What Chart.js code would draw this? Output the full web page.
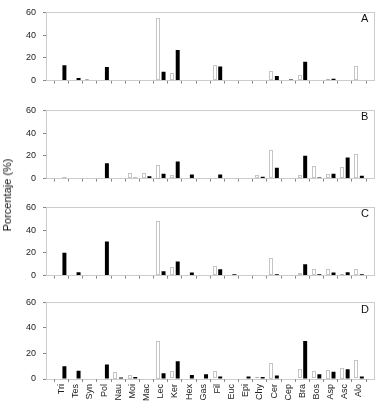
<!DOCTYPE html>
<html>
<head>
<meta charset="utf-8">
<script src="https://cdn.jsdelivr.net/npm/chart.js@4/dist/chart.umd.min.js"></script>
<style>
  body { margin: 0; background: #fff; }
  #wrap { position: relative; width: 383px; height: 410px; font-family: "Liberation Sans", Arial, sans-serif; color: #111; }
  canvas { position: absolute; left: 0; }
  .tag { position: absolute; left: 361px; font-size: 11px; line-height: 11px; }
  #ytitle { position: absolute; left: 7px; top: 195px; transform: translate(-50%, -50%) rotate(-90deg); font-size: 11px; white-space: nowrap; }
</style>
</head>
<body>
<div id="wrap">
  <canvas id="cA" width="383" height="93" style="top:0px"></canvas>
  <canvas id="cB" width="383" height="93" style="top:98px"></canvas>
  <canvas id="cC" width="383" height="93" style="top:195px"></canvas>
  <canvas id="cD" width="383" height="120" style="top:290px"></canvas>
  <div class="tag" style="top:13px">A</div>
  <div class="tag" style="top:111px">B</div>
  <div class="tag" style="top:208px">C</div>
  <div class="tag" style="top:304px">D</div>
  <div id="ytitle">Porcentaje (%)</div>
</div>
<script>
const categories = ['Tri','Tes','Syn','Pol','Nau','Moi','Mac','Lec','Ker','Hex','Gas','Fil','Euc','Epi','Chy','Cer','Cep','Bra','Bos','Asp','Asc','Alo'];
const yTicks = [0, 10, 20, 30, 40, 50, 60];

// white (open) bars and black bars, one pair per panel
const whiteA = [0, 0, 1, 0, 0, 0, 0, 55, 6.5, 0, 0, 13.5, 0, 0, 0.7, 8.5, 0, 4.5, 0, 1.7, 0.7, 13];
const blackA = [13.5, 2.2, 0, 12, 0, 0.5, 0, 7.8, 27, 0, 0, 12.5, 0, 0, 0, 4, 1, 16.5, 0, 1.7, 0, 0.5];
const whiteB = [0, 0, 0, 0, 0, 4.8, 4.8, 12.4, 2.9, 0, 0, 0, 0, 0, 2.9, 25, 0, 2.9, 11.4, 4.3, 10, 21.4];
const blackB = [0.7, 0, 0, 13.6, 0, 0.7, 2, 4.3, 15, 3.6, 0, 3.6, 0, 0, 1.7, 9.5, 0, 20, 1, 4.3, 18.6, 2.6];
const whiteC = [0, 0, 0, 0, 0, 0, 0, 48, 7.5, 0, 0, 8.7, 0, 0, 0, 15.3, 0, 2, 5.6, 6, 1, 6];
const blackC = [20, 3, 0, 30, 0, 0, 0, 3.9, 12.3, 2.7, 0, 5.6, 1.2, 0, 0, 1.2, 0, 10, 1.2, 2.7, 2.9, 1.2];
const whiteD = [0, 0, 0, 0, 5.5, 3.5, 0, 30, 6, 0, 0, 6.2, 0, 0, 1.5, 12.7, 0, 7.7, 6, 7.4, 8.7, 14.6];
const blackD = [10, 6.5, 0, 11.4, 1.2, 1.5, 0, 4.5, 13.9, 3.2, 3.7, 2, 0, 2, 1.5, 2.7, 0, 29.8, 3.7, 5.7, 7.7, 2];

const tickFont = { family: '"Liberation Sans", Arial, sans-serif', size: 9 };

// dotted frame round the plot and dotted outline on the open bars
const dottedPlugin = {
  id: 'dotted',
  afterDatasetsDraw(chart) {
    const ctx = chart.ctx;
    const area = chart.chartArea;
    ctx.save();
    ctx.setLineDash([1, 1]);
    ctx.lineWidth = 1;
    ctx.strokeStyle = '#8a8a8a';
    chart.getDatasetMeta(0).data.forEach(bar => {
      const p = bar.getProps(['x', 'y', 'base', 'width'], true);
      if (p.base - p.y < 0.5) return;
      ctx.strokeRect(Math.round(p.x - p.width / 2) + 0.5, Math.round(p.y) + 0.5, Math.round(p.width) - 1, Math.round(p.base - p.y) - 1);
    });
    ctx.strokeStyle = '#999';
    ctx.strokeRect(Math.round(area.left) + 0.5, Math.round(area.top) + 0.5, Math.round(area.width) - 1, Math.round(area.height));
    ctx.restore();
  }
};

function makePanel(id, white, black, showLabels) {
  const toPts = vals => vals.map((v, i) => ({ x: i, y: v }));
  return new Chart(document.getElementById(id), {
    type: 'bar',
    data: {
      datasets: [
        { data: toPts(white), backgroundColor: '#fff', borderWidth: 0, categoryPercentage: 0.8, barPercentage: 0.7 },
        { data: toPts(black), backgroundColor: '#000', borderWidth: 0, categoryPercentage: 0.8, barPercentage: 0.7 }
      ]
    },
    options: {
      responsive: false,
      animation: false,
      layout: { padding: { top: 7, right: 8, left: 0, bottom: 0 } },
      plugins: { legend: { display: false }, tooltip: { enabled: false } },
      scales: {
        x: {
          type: 'linear',
          min: -1.1,
          max: 22.13,
          offset: false,
          afterBuildTicks: axis => { axis.ticks = categories.map((c, i) => ({ value: i })); },
          afterFit: axis => { axis.height = showLabels ? 31 : 4; },
          grid: { drawOnChartArea: false, tickLength: 3, color: '#888' },
          border: { display: false },
          ticks: {
            display: showLabels,
            autoSkip: false,
            minRotation: 90,
            maxRotation: 90,
            padding: 2,
            font: tickFont,
            color: '#222',
            callback: v => categories[v]
          }
        },
        y: {
          min: 0,
          max: 60,
          afterBuildTicks: axis => { axis.ticks = yTicks.map(v => ({ value: v })); },
          afterFit: axis => { axis.width = 46; },
          grid: { drawOnChartArea: false, tickLength: 3, color: '#888' },
          border: { display: false },
          ticks: { padding: 7, font: tickFont, color: '#222' }
        }
      }
    },
    plugins: [dottedPlugin]
  });
}

makePanel('cA', whiteA, blackA, false);
makePanel('cB', whiteB, blackB, false);
makePanel('cC', whiteC, blackC, false);
makePanel('cD', whiteD, blackD, true);
</script>
</body>
</html>
